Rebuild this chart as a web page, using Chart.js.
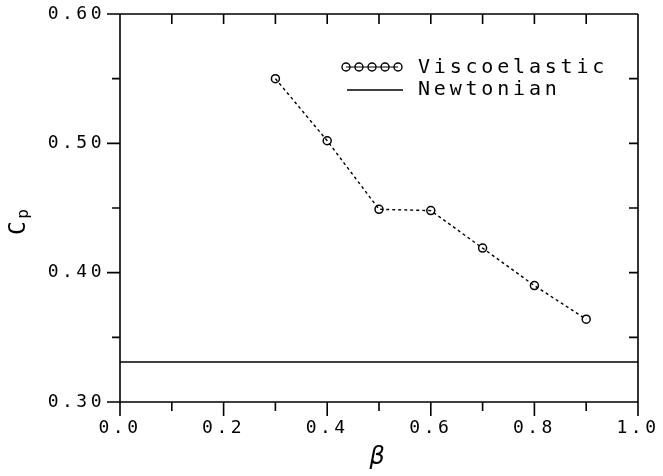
<!DOCTYPE html>
<html>
<head>
<meta charset="utf-8">
<script src="https://cdn.jsdelivr.net/npm/chart.js@4.4.1/dist/chart.umd.min.js"></script>
<style>
  body { margin: 0; background: #fff; }
  canvas { display: block; }
</style>
</head>
<body>
<canvas id="cp_chart" width="663" height="476"></canvas>
<script>
// pressure coefficient vs viscosity ratio
const betaValues = [0.3, 0.4, 0.5, 0.6, 0.7, 0.8, 0.9]
const cpViscoelastic = [0.550, 0.502, 0.449, 0.448, 0.419, 0.390, 0.364]
const newtonianBeta = [0.0, 1.0]
const newtonianCp = [0.331, 0.331]

const xTickLabels = [0.0, 0.2, 0.4, 0.6, 0.8, 1.0]
const yTickLabels = [0.30, 0.40, 0.50, 0.60]

const monoFont = "'DejaVu Sans Mono', 'Liberation Mono', monospace"

function toPoints(xs, ys){
  return xs.map((x, i) => ({x: x, y: ys[i]}))
}

// frame, tick marks, y title and legend are drawn by hand
const framePlugin = {
  id: "frame",
  beforeDraw(chart){
    chart.ctx.letterSpacing = "3.5px"
  },
  afterDraw(chart){
    const ctx = chart.ctx
    const a = chart.chartArea
    const xs = chart.scales.x
    const ys = chart.scales.y
    ctx.save()
    ctx.strokeStyle = "#000"
    ctx.lineWidth = 1.6
    ctx.beginPath()
    // box, sides run down past the x axis
    ctx.moveTo(a.left, a.top); ctx.lineTo(a.right, a.top)
    ctx.moveTo(a.left, a.bottom); ctx.lineTo(a.right, a.bottom)
    ctx.moveTo(a.left, a.top); ctx.lineTo(a.left, a.bottom + 14)
    ctx.moveTo(a.right, a.top); ctx.lineTo(a.right, a.bottom + 14)

    // x ticks every 0.1, longer at labelled ones
    for (let i = 1; i < 10; i++){
      const px = xs.getPixelForValue(i / 10)
      const len = (i % 2 == 0) ? 14 : 9
      ctx.moveTo(px, a.bottom); ctx.lineTo(px, a.bottom + len)
      ctx.moveTo(px, a.top); ctx.lineTo(px, a.top + 10)
    }
    // y ticks every 0.05
    for (let i = 0; i <= 6; i++){
      const v = 0.30 + i * 0.05
      const py = ys.getPixelForValue(v)
      const len = (i % 2 == 0) ? 13 : 8
      ctx.moveTo(a.left - len, py); ctx.lineTo(a.left, py)
      if (i < 6){
        ctx.moveTo(a.right - 9, py); ctx.lineTo(a.right, py)
      }
    }
    ctx.stroke()

    // y axis title C_p
    ctx.fillStyle = "#000"
    ctx.letterSpacing = "0px"
    ctx.translate(19, 228)
    ctx.rotate(-Math.PI / 2)
    ctx.textBaseline = "middle"
    ctx.textAlign = "center"
    ctx.font = "23px " + monoFont
    ctx.fillText("C", 0, 0)
    ctx.font = "16px " + monoFont
    ctx.fillText("p", 14, 5)
    ctx.setTransform(1, 0, 0, 1, 0, 0)

    // legend
    const visco = chart.data.datasets[0]
    const newt = chart.data.datasets[1]
    ctx.lineWidth = 1.4
    for (let i = 0; i < 5; i++){
      const cx = 346 + i * 13
      ctx.beginPath()
      ctx.arc(cx, 67, 4, 0, Math.PI * 2)
      ctx.stroke()
    }
    ctx.beginPath()
    ctx.moveTo(346, 67); ctx.lineTo(398, 67)
    ctx.lineWidth = 1
    ctx.stroke()
    ctx.lineWidth = 1.5
    ctx.beginPath()
    ctx.moveTo(347, 90); ctx.lineTo(403, 90)
    ctx.stroke()

    ctx.font = "20px " + monoFont
    ctx.letterSpacing = "3.8px"
    ctx.textAlign = "left"
    ctx.textBaseline = "middle"
    ctx.fillText(visco.label, 418, 68)
    ctx.fillText(newt.label, 418, 90)
    ctx.restore()
  }
}

const node = document.getElementById("cp_chart").getContext("2d")

const cpChart = new Chart(node, {
  type: "scatter",
  data: {
    datasets: [
      {
        label: "Viscoelastic",
        data: toPoints(betaValues, cpViscoelastic),
        showLine: true,
        borderColor: "#000",
        borderWidth: 1.4,
        borderDash: [3, 3],
        pointStyle: "circle",
        pointRadius: 4,
        pointBorderWidth: 1.5,
        pointBorderColor: "#000",
        pointBackgroundColor: "rgba(0,0,0,0)",
        backgroundColor: "rgba(0,0,0,0)"
      },
      {
        label: "Newtonian",
        data: toPoints(newtonianBeta, newtonianCp),
        showLine: true,
        borderColor: "#000",
        borderWidth: 1.5,
        pointRadius: 0
      }
    ]
  },
  options: {
    responsive: false,
    animation: false,
    layout: { padding: { top: 14, right: 25, left: 0, bottom: 0 } },
    plugins: {
      legend: { display: false },
      tooltip: { enabled: false }
    },
    scales: {
      x: {
        type: "linear",
        min: 0,
        max: 1,
        grid: { display: false },
        border: { display: false },
        afterBuildTicks: (scale) => { scale.ticks = xTickLabels.map(v => ({value: v})) },
        afterFit: (scale) => {
          scale.height = 74
          scale.paddingLeft = 0
          scale.paddingRight = 0
        },
        ticks: {
          color: "#000",
          padding: 8,
          maxRotation: 0,
          font: { family: monoFont, size: 18 },
          callback: (v) => Number(v).toFixed(1)
        },
        title: {
          display: true,
          text: "β",
          color: "#000",
          padding: { top: 0, bottom: 4 },
          font: { family: "'DejaVu Sans'", size: 24, style: "italic" }
        }
      },
      y: {
        type: "linear",
        min: 0.30,
        max: 0.60,
        grid: { display: false },
        border: { display: false },
        afterBuildTicks: (scale) => { scale.ticks = yTickLabels.map(v => ({value: v})) },
        afterFit: (scale) => {
          scale.width = 120
          scale.paddingTop = 0
          scale.paddingBottom = 0
        },
        ticks: {
          color: "#000",
          padding: 7,
          font: { family: monoFont, size: 18 },
          callback: (v) => Number(v).toFixed(2)
        }
      }
    }
  },
  plugins: [framePlugin]
})
</script>
</body>
</html>
